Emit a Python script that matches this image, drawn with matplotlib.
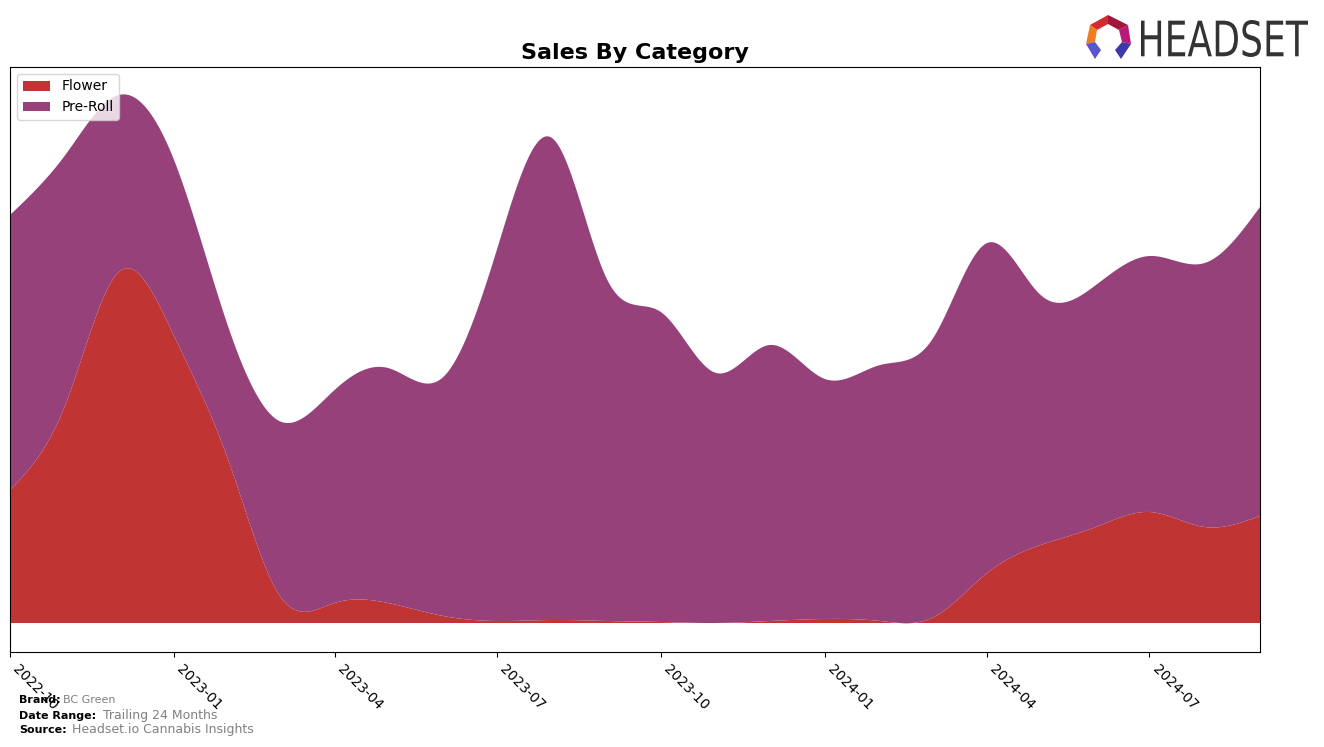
import numpy as np
import matplotlib
matplotlib.use("Agg")
import matplotlib.pyplot as plt
import matplotlib.dates as mdates
from matplotlib.patches import Polygon, PathPatch
from matplotlib.textpath import TextPath
from matplotlib.font_manager import FontProperties
from matplotlib.transforms import Affine2D
import datetime as dt

# ---- data (monthly, arbitrary units) ----
months = ["2022-10", "2022-11", "2022-12", "2023-01", "2023-02", "2023-03",
          "2023-04", "2023-05", "2023-06", "2023-07", "2023-08", "2023-09",
          "2023-10", "2023-11", "2023-12", "2024-01", "2024-02", "2024-03",
          "2024-04", "2024-05", "2024-06", "2024-07", "2024-08", "2024-09"]
flower = [133, 218, 351, 287, 160, 28, 20, 20, 7, 2, 3, 2,
          1, 0, 2, 4, 2, 5, 50, 78, 96, 111, 96, 107]
total = [408, 468, 528, 463, 293, 202, 233, 255, 246, 373, 485, 343,
         311, 250, 278, 244, 258, 283, 380, 328, 338, 367, 360, 416]
preroll = [t - f for t, f in zip(total, flower)]

categories = ["Flower", "Pre-Roll"]
colors = ["#c13434", "#96417a"]
tick_labels = ["2022-10", "2023-01", "2023-04", "2023-07", "2023-10",
               "2024-01", "2024-04", "2024-07"]


def natural_spline(x, y, xs):
    x = np.asarray(x, float); y = np.asarray(y, float)
    n = len(x)
    h = np.diff(x)
    A = np.zeros((n, n)); b = np.zeros(n)
    A[0, 0] = 1; A[-1, -1] = 1
    for i in range(1, n - 1):
        A[i, i - 1] = h[i - 1]
        A[i, i] = 2 * (h[i - 1] + h[i])
        A[i, i + 1] = h[i]
        b[i] = 6 * ((y[i + 1] - y[i]) / h[i] - (y[i] - y[i - 1]) / h[i - 1])
    M = np.linalg.solve(A, b)
    idx = np.clip(np.searchsorted(x, xs) - 1, 0, n - 2)
    x0 = x[idx]; x1 = x[idx + 1]; hh = x1 - x0
    t0 = x1 - xs; t1 = xs - x0
    return (M[idx] * t0 ** 3 / (6 * hh) + M[idx + 1] * t1 ** 3 / (6 * hh)
            + (y[idx] / hh - M[idx] * hh / 6) * t0
            + (y[idx + 1] / hh - M[idx + 1] * hh / 6) * t1)


dates = [dt.datetime.strptime(m, "%Y-%m") for m in months]
xnum = mdates.date2num(dates)
xs = np.linspace(xnum[0], xnum[-1], 600)
fl_s = natural_spline(xnum, flower, xs)
pr_s = natural_spline(xnum, preroll, xs)

W, H = 1324, 747
fig = plt.figure(figsize=(W / 100, H / 100), dpi=100)
ax = fig.add_axes([10 / W, 1 - 652 / H, 1250 / W, 585 / H])
ax.stackplot(xs, fl_s, pr_s, labels=categories, colors=colors)
ax.set_xlim(xnum[0], xnum[-1])
ax.set_ylim(-29, 556)
ax.set_yticks([])
ticks = mdates.date2num([dt.datetime.strptime(t, "%Y-%m") for t in tick_labels])
ax.set_xticks(ticks)
ax.set_xticklabels(tick_labels, rotation=-45, ha="left", fontsize=10)
ax.set_title("Sales By Category", fontsize=16, fontweight="bold", pad=6)
ax.legend(loc="upper left", fontsize=10)


def ftext(x, y, s, **kw):
    fig.text(x / W, 1 - y / H, s, va="center", **kw)


ftext(19, 700, "Brand:", fontsize=8, fontweight="bold")
ftext(63, 700, "BC Green", fontsize=8, color="gray")
ftext(19, 716, "Date Range:", fontsize=8, fontweight="bold")
ftext(103, 716, "Trailing 24 Months", fontsize=9, color="gray")
ftext(19, 730, "Source:", fontsize=8, fontweight="bold")
ftext(72, 730, "Headset.io Cannabis Insights", fontsize=9, color="gray")

# ---- logo ----
ov = fig.add_axes([0, 0, 1, 1], facecolor="none")
ov.set_xlim(0, W); ov.set_ylim(H, 0); ov.axis("off")
pieces = [
    ([(1090, 25), (1108, 15), (1108, 24), (1097, 30)], "#d42a2f"),
    ([(1108, 15), (1128, 25), (1119, 30), (1108, 24)], "#a3163a"),
    ([(1090, 25), (1097, 30), (1095, 42), (1086, 44)], "#f07c22"),
    ([(1128, 25), (1131, 44), (1122, 42), (1119, 30)], "#b8197c"),
    ([(1086, 44), (1095, 42), (1101, 50), (1095, 59)], "#5b54d0"),
    ([(1131, 44), (1122, 42), (1115, 50), (1121, 59)], "#3c3aa8"),
]
for pts, c in pieces:
    ov.add_patch(Polygon(pts, closed=True, fc=c, ec="none"))
tp = TextPath((0, 0), "HEADSET", size=1, prop=FontProperties(family="DejaVu Sans"))
ext = tp.get_extents()
sx = (1308 - 1141) / ext.width
sy = (57 - 20) / ext.height
tr = Affine2D().translate(-ext.x0, -ext.y0).scale(sx, -sy).translate(1141, 57)
ov.add_patch(PathPatch(tr.transform_path(tp), fc="#333333", ec="none"))

fig.savefig("out.png", dpi=100)
